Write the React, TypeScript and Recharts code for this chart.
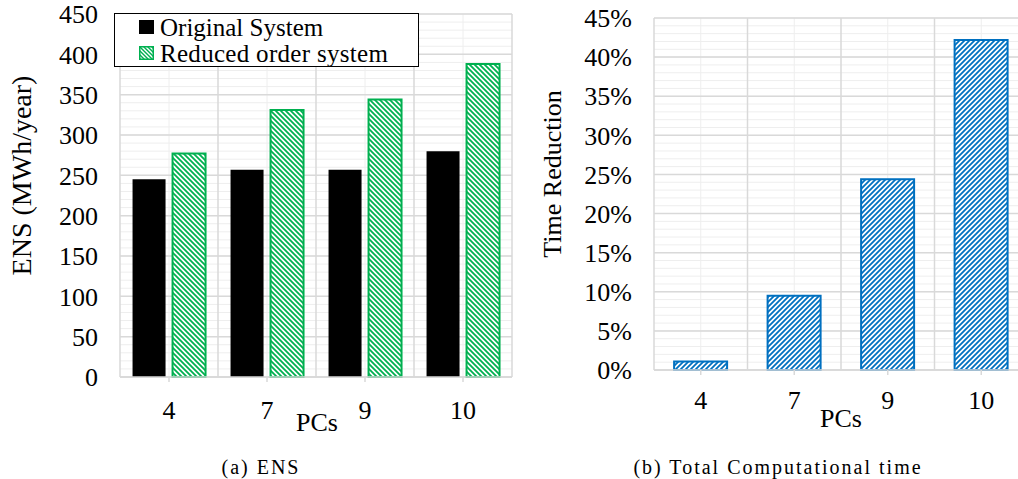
import React from 'react';
import { BarChart, Bar, XAxis, YAxis, CartesianGrid, Legend } from 'recharts';

const categories = ['4', '7', '9', '10'];
const originalSystem = [245, 257, 257, 280];
const reducedOrderSystem = [277, 331, 344, 388];
const timeReduction = [0.011, 0.095, 0.244, 0.422];

const ensTicks = [0, 50, 100, 150, 200, 250, 300, 350, 400, 450];
const ensMinorTicks = Array.from({ length: 46 }, (_, i) => i * 10);
const timeTicks = [0, 0.05, 0.1, 0.15, 0.2, 0.25, 0.3, 0.35, 0.4, 0.45];
const timeMinorTicks = Array.from({ length: 46 }, (_, i) => i / 100);

const ensData = categories.map((c, i) => ({
  pc: c,
  original: originalSystem[i],
  reduced: reducedOrderSystem[i],
}));
const timeData = categories.map((c, i) => ({ pc: c, reduction: timeReduction[i] }));

const FONT = "'Liberation Serif', 'Times New Roman', serif";
const GREEN = '#00B050';
const BLUE = '#0070C0';
const MAJOR = '#d9d9d9';
const MINOR = '#eeeeee';

const boundaryLines = ({ offset }: any) => {
  const n = categories.length;
  const step = offset.width / n;
  return Array.from({ length: n + 1 }, (_, i) => offset.left + i * step);
};
const centerLines = ({ offset }: any) => {
  const n = categories.length;
  const step = offset.width / n;
  return Array.from({ length: n }, (_, i) => offset.left + (i + 0.5) * step);
};

const yTitle = (text: string, dx: number, dy: number, size: number) => (props: any) => {
  const vb = props.viewBox || {};
  const cx = vb.x + dx;
  const cy = vb.y + vb.height / 2 + dy;
  return (
    <text
      x={cx}
      y={cy}
      transform={`rotate(-90 ${cx} ${cy})`}
      textAnchor="middle"
      dominantBaseline="central"
      fontFamily={FONT}
      fontSize={size}
      fill="#000"
    >
      {text}
    </text>
  );
};

const xTitle = (text: string, dx: number, dy: number) => (props: any) => {
  const vb = props.viewBox || {};
  const cx = vb.x + vb.width / 2 + dx;
  const cy = vb.y + dy;
  return (
    <text x={cx} y={cy} textAnchor="middle" dominantBaseline="central" fontFamily={FONT} fontSize={26} fill="#000">
      {text}
    </text>
  );
};

const EnsLegend = () => (
  <div
    style={{
      boxSizing: 'border-box',
      width: 305,
      height: 54,
      border: '1.5px solid #000',
      background: '#fff',
      fontFamily: FONT,
      fontSize: 25,
      lineHeight: '25px',
      paddingLeft: 24,
      paddingTop: 0,
      color: '#000',
    }}
  >
    <div style={{ display: 'flex', alignItems: 'center', height: 26 }}>
      <span style={{ display: 'inline-block', width: 15, height: 14, background: '#000', marginRight: 6 }} />
      <span>Original System</span>
    </div>
    <div style={{ display: 'flex', alignItems: 'center', height: 26 }}>
      <svg width={15} height={14} style={{ marginRight: 6 }}>
        <defs>
          <pattern id="legGreen" patternUnits="userSpaceOnUse" width={4} height={4}>
            <rect width={4} height={4} fill="#fff" />
            <path d="M0,0 L4,4 M-1,3 L1,5 M3,-1 L5,1" stroke={GREEN} strokeWidth={1.4} />
          </pattern>
        </defs>
        <rect x={0.75} y={0.75} width={13.5} height={12.5} fill="url(#legGreen)" stroke={GREEN} strokeWidth={1.5} />
      </svg>
      <span style={{ letterSpacing: 0.3 }}>Reduced order system</span>
    </div>
  </div>
);

const axisTick = { fontFamily: FONT, fontSize: 26, fill: '#000' };

export default function App() {
  return (
    <div style={{ position: 'absolute', left: 0, top: 0, width: 1018, height: 479, overflow: 'hidden', background: '#fff' }}>
      <div style={{ position: 'absolute', left: 0, top: 0 }}>
        <BarChart
          width={518}
          height={479}
          data={ensData}
          margin={{ top: 14, right: 6, bottom: 0, left: 0 }}
          barCategoryGap="12.8%"
          barGap={7}
        >
          <defs>
            <pattern id="hatchGreen" patternUnits="userSpaceOnUse" width={5} height={5}>
              <rect width={5} height={5} fill="#fff" />
              <path d="M0,0 L5,5 M-1,4 L1,6 M4,-1 L6,1" stroke={GREEN} strokeWidth={1.8} />
            </pattern>
          </defs>
          <CartesianGrid horizontalValues={ensMinorTicks} verticalCoordinatesGenerator={centerLines} stroke={MINOR} strokeWidth={1} />
          <CartesianGrid horizontalValues={ensTicks} verticalCoordinatesGenerator={boundaryLines} stroke={MAJOR} strokeWidth={1.5} />
          <XAxis
            dataKey="pc"
            height={102}
            interval={0}
            tick={axisTick}
            tickSize={5}
            tickMargin={19}
            tickLine={{ stroke: MAJOR, strokeWidth: 1.5 }}
            axisLine={{ stroke: MAJOR, strokeWidth: 1.5 }}
            label={{ content: xTitle('PCs', 1, 45) }}
          />
          <YAxis
            width={120}
            domain={[0, 450]}
            ticks={ensTicks}
            interval={0}
            tick={axisTick}
            tickSize={0}
            tickMargin={22}
            axisLine={false}
            tickLine={false}
            label={{ content: yTitle('ENS (MWh/year)', 21, -20, 28) }}
          />
          <Legend
            layout="vertical"
            align="center"
            verticalAlign="middle"
            content={() => <EnsLegend />}
            wrapperStyle={{ position: 'absolute', left: 114, top: 13, width: 305, height: 54, margin: 0 }}
          />
          <Bar dataKey="original" name="Original System" fill="#000" isAnimationActive={false} />
          <Bar
            dataKey="reduced"
            name="Reduced order system"
            fill="url(#hatchGreen)"
            stroke={GREEN}
            strokeWidth={2}
            isAnimationActive={false}
          />
        </BarChart>
      </div>
      <div style={{ position: 'absolute', left: 500, top: 0 }}>
        <BarChart
          width={540}
          height={479}
          data={timeData}
          margin={{ top: 18, right: 12, bottom: 0, left: 0 }}
          barCategoryGap="21.5%"
        >
          <defs>
            <pattern id="hatchBlue" patternUnits="userSpaceOnUse" width={5} height={5}>
              <rect width={5} height={5} fill="#fff" />
              <path d="M0,5 L5,0 M-1,1 L1,-1 M4,6 L6,4" stroke={BLUE} strokeWidth={1.8} />
            </pattern>
          </defs>
          <CartesianGrid horizontalValues={timeMinorTicks} verticalCoordinatesGenerator={centerLines} stroke={MINOR} strokeWidth={1} />
          <CartesianGrid horizontalValues={timeTicks} verticalCoordinatesGenerator={boundaryLines} stroke={MAJOR} strokeWidth={1.5} />
          <XAxis
            dataKey="pc"
            height={109}
            interval={0}
            tick={axisTick}
            tickSize={5}
            tickMargin={16}
            tickLine={{ stroke: MAJOR, strokeWidth: 1.5 }}
            axisLine={{ stroke: MAJOR, strokeWidth: 1.5 }}
            label={{ content: xTitle('PCs', 0, 48) }}
          />
          <YAxis
            width={154}
            domain={[0, 0.45]}
            ticks={timeTicks}
            interval={0}
            tick={axisTick}
            tickSize={0}
            tickMargin={22}
            axisLine={false}
            tickLine={false}
            tickFormatter={(v: number) => `${Math.round(v * 100)}%`}
            label={{ content: yTitle('Time Reduction', 52, -20, 26) }}
          />
          <Bar
            dataKey="reduction"
            name="Time Reduction"
            fill="url(#hatchBlue)"
            stroke={BLUE}
            strokeWidth={2}
            isAnimationActive={false}
          />
        </BarChart>
      </div>
      <div
        style={{
          position: 'absolute',
          left: 161,
          width: 200,
          top: 455,
          textAlign: 'center',
          fontFamily: FONT,
          fontSize: 20,
          letterSpacing: 2,
          lineHeight: '24px',
          color: '#000',
        }}
      >
        (a) ENS
      </div>
      <div
        style={{
          position: 'absolute',
          left: 578,
          width: 400,
          top: 455,
          textAlign: 'center',
          fontFamily: FONT,
          fontSize: 20,
          letterSpacing: 2,
          lineHeight: '24px',
          color: '#000',
        }}
      >
        (b) Total Computational time
      </div>
    </div>
  );
}
